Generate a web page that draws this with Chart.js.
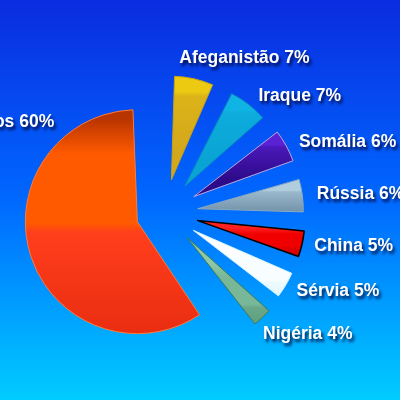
<!DOCTYPE html>
<html>
<head>
<meta charset="utf-8">
<script src="https://cdn.jsdelivr.net/npm/chart.js@4"></script>
<style>
  html, body { margin: 0; padding: 0; }
  body {
    width: 400px; height: 400px; overflow: hidden;
    background: linear-gradient(to bottom, #0a2ce0 0%, #0068ff 50%, #00ccff 100%);
  }
</style>
</head>
<body>
<canvas id="pie" width="400" height="400"></canvas>
<script>
// data (percent shares)
const labels = ['Afeganistão', 'Iraque', 'Somália', 'Rússia', 'China', 'Sérvia', 'Nigéria', 'Outros'];
const shares = [7, 7, 6, 6, 5, 5, 4, 60];

// slice colours: top edge, upper body, lower body, bottom edge
const topColors    = ['#e4c014', '#0878a8', '#280878', '#c4dce8', '#ff2020', '#ffffff', '#90c8a8', '#b83400'];
const upperColors  = ['#ecca12', '#10b4e4', '#5a22d4', '#b0cede', '#f00000', '#f8feff', '#78b898', '#ff5a00'];
const lowerColors  = ['#dcb418', '#0cacdc', '#4a18b8', '#9ab8cc', '#e00000', '#ecfbff', '#68a888', '#ff3e1c'];
const bottomColors = ['#d4a81c', '#0aa4d4', '#2c0a88', '#7494aa', '#b80000', '#d8f0f8', '#50906c', '#e82c10'];
const edgeColors   = ['#c8a010', '#0890c0', '#b8a8e0', '#8aa8c0', '#000000', '#d0f0ff', '#3c7a58', '#ff7a3a'];

const RADIUS = 84;       // base radius, chart.js grows exploded arcs a bit
const PUSH_SMALL = 34;   // px each small slice is pulled out
const PUSH_BIG = 28;
const LABEL_DIST = 154;

function pushFor(i) {
  return shares[i] > 50 ? PUSH_BIG : PUSH_SMALL;
}

// where chart.js will put slice i (needed to lay the gradient over it)
function sliceGeom(chart, i) {
  const a = chart.chartArea;
  const cx = (a.left + a.right) / 2;
  const cy = (a.top + a.bottom) / 2;
  const total = shares.reduce((s, v) => s + v, 0);
  let start = -Math.PI / 2;
  for (let k = 0; k < i; k++) start += shares[k] / total * 2 * Math.PI;
  const circ = shares[i] / total * 2 * Math.PI;
  const mid = start + circ / 2;
  const t = pushFor(i);
  const r = RADIUS + t * (1 - Math.sin(Math.min(Math.PI, circ)));
  const x = cx + Math.cos(mid) * t;
  const y = cy + Math.sin(mid) * t;
  let top = y, bottom = y;
  for (let s = 0; s <= 30; s++) {
    const py = y + Math.sin(start + circ * s / 30) * r;
    top = Math.min(top, py);
    bottom = Math.max(bottom, py);
  }
  return { top, bottom };
}

function sliceFill(context) {
  const i = context.dataIndex;
  const chart = context.chart;
  if (!chart.chartArea) return upperColors[i];
  const g = sliceGeom(chart, i);
  const grad = chart.ctx.createLinearGradient(0, g.top, 0, g.bottom);
  grad.addColorStop(0, topColors[i]);
  grad.addColorStop(0.16, upperColors[i]);
  grad.addColorStop(0.47, upperColors[i]);
  grad.addColorStop(0.51, lowerColors[i]);
  grad.addColorStop(1, bottomColors[i]);
  return grad;
}

// white labels with a dark drop shadow
const sliceLabels = {
  id: 'sliceLabels',
  afterDatasetsDraw(chart) {
    const ctx = chart.ctx;
    const meta = chart.getDatasetMeta(0);
    ctx.save();
    ctx.font = "bold 17.5px 'Liberation Sans', Arial, sans-serif";
    ctx.fillStyle = '#ffffff';
    ctx.textBaseline = 'middle';
    ctx.textAlign = 'left';
    ctx.shadowColor = 'rgba(0, 0, 50, 0.85)';
    ctx.shadowOffsetX = 2;
    ctx.shadowOffsetY = 3;
    ctx.shadowBlur = 3;
    meta.data.forEach((arc, i) => {
      const p = arc.getProps(['x', 'y', 'startAngle', 'endAngle'], true);
      const circ = p.endAngle - p.startAngle;
      const big = circ > Math.PI;
      // the big slice gets its label up by its closing edge
      const ang = big ? p.endAngle - circ * 0.23 : p.startAngle + circ / 2;
      const dist = big ? LABEL_DIST - 10 : LABEL_DIST;
      const px = p.x + Math.cos(ang) * dist;
      let py = p.y + Math.sin(ang) * dist + (big ? 2 : 0);
      const text = labels[i] + ' ' + shares[i] + '%';
      const w = ctx.measureText(text).width;
      const up = -Math.sin(ang);
      let left;
      if (Math.cos(ang) >= 0) {
        // upper right labels sit a bit lower, the topmost one slides left and up
        const topness = Math.max(0, up - 0.8);
        py += 6 * Math.max(0, up) - 60 * topness;
        left = px - w * topness * 0.8;
        // labels low on the right slide down and in a little
        const down = Math.max(0, -up - 0.55);
        py += down * 48;
        left -= w * down * 0.4;
      } else {
        left = px - w;
      }
      ctx.fillText(text, left, py);
    });
    ctx.restore();
  }
};

new Chart(document.getElementById('pie').getContext('2d'), {
  type: 'pie',
  data: {
    labels: labels,
    datasets: [{
      data: shares,
      backgroundColor: sliceFill,
      borderColor: edgeColors,
      borderWidth: shares.map((v, i) => i === 4 ? 1.5 : 1),
      offset: shares.map((v, i) => pushFor(i) * 4),
      hoverOffset: 0
    }]
  },
  options: {
    responsive: false,
    animation: false,
    radius: RADIUS,
    layout: { padding: { left: 0, right: 72, top: 26, bottom: 0 } },
    plugins: {
      legend: { display: false },
      tooltip: { enabled: false }
    }
  },
  plugins: [sliceLabels]
});
</script>
</body>
</html>
